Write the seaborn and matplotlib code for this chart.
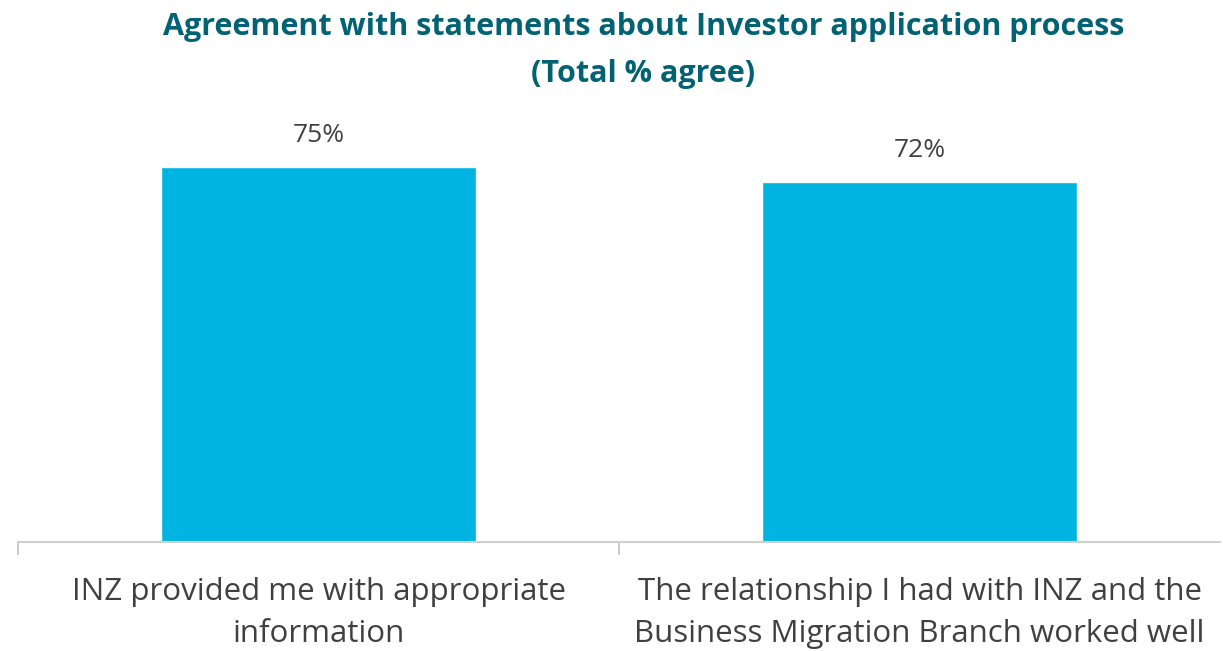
import pandas as pd
import matplotlib.pyplot as plt
import seaborn as sns

# Chart data
statements = ["INZ provided me with appropriate\ninformation",
              "The relationship I had with INZ and the\nBusiness Migration Branch worked well"]
agree_pct = [75, 72]

df = pd.DataFrame({"statement": statements, "agree": agree_pct})

sns.set_style("white")
plt.rcParams['font.family'] = ['Open Sans', 'DejaVu Sans']

fig = plt.figure(figsize=(12.23, 6.51), dpi=100)
ax = fig.add_axes([18 / 1223, 109 / 651, 1202 / 1223, 400 / 651])

sns.barplot(data=df, x="statement", y="agree", color="#00B4E1",
            saturation=1, width=0.523, ax=ax)

ax.set_ylim(0, 80)
ax.set_xlim(-0.5, 1.5)
ax.set_yticks([])
ax.set_xlabel("")
ax.set_ylabel("")

# value labels
for i, v in enumerate(agree_pct):
    ax.text(i, v + 3.8, f"{v}%", ha="center", va="bottom",
            fontsize=19, color="#404040")

# boundary tick marks only; category text drawn below
ax.set_xticks([-0.5, 0.5])
ax.set_xticklabels(["", ""])
ax.tick_params(axis="x", which="major", length=9, width=1.2, color="#bfbfbf",
               direction="out", bottom=True)

trans = ax.get_xaxis_transform()
for i, s in enumerate(statements):
    ax.text(i, -0.087, s, transform=trans, ha="center", va="top",
            fontsize=22.5, color="#404040", linespacing=1.52)

for side in ["top", "right", "left"]:
    ax.spines[side].set_visible(False)
ax.spines["bottom"].set_color("#d0d0d0")
ax.spines["bottom"].set_linewidth(1.5)

fig.text(0.526, 0.982, "Agreement with statements about Investor application process\n(Total % agree)",
         ha="center", va="top", fontsize=22, fontweight="bold", color="#006272",
         linespacing=1.75)

plt.savefig("out.png", dpi=100)
